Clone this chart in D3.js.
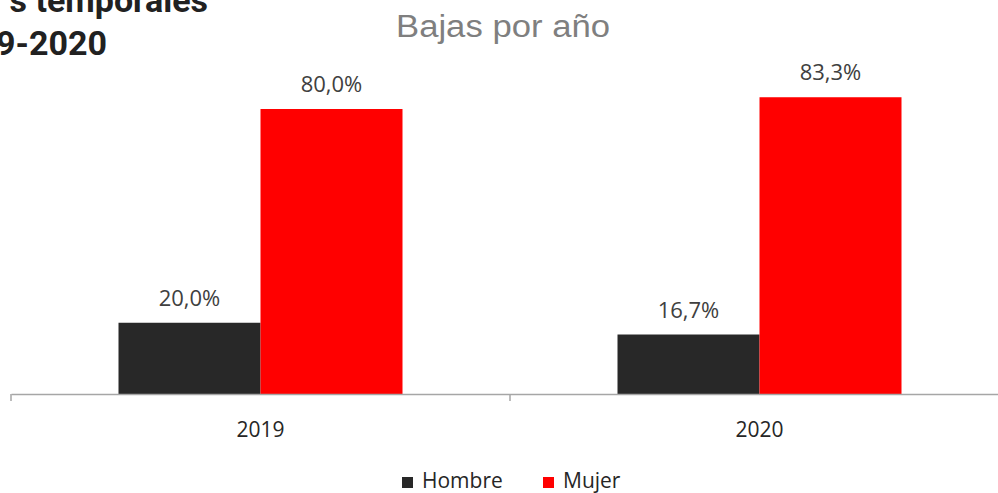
<!DOCTYPE html>
<html>
<head>
<meta charset="utf-8">
<script src="https://cdn.jsdelivr.net/npm/d3@7"></script>
<style>
  body { margin: 0; background: #fff; }
  svg { display: block; }
</style>
</head>
<body>
<div id="chart"></div>
<script>
var years = ["2019", "2020"];
var series = ["Hombre", "Mujer"];
var hombre = [20.0, 16.7];
var mujer = [80.0, 83.3];
var colors = ["#282828", "#ff0000"];

var width = 998, height = 493;

var svg = d3.select("#chart")
    .append("svg")
    .attr("width", width)
    .attr("height", height);

// cut-off heading from the slide behind the chart
svg.append("text")
    .attr("x", 208).attr("y", 12)
    .attr("text-anchor", "end")
    .style("font-family", "Roboto")
    .style("font-weight", "bold")
    .style("font-size", "34px")
    .style("fill", "#212121")
    .text("s temporales");

svg.append("text")
    .attr("x", 107).attr("y", 55)
    .attr("text-anchor", "end")
    .style("font-family", "Roboto")
    .style("font-weight", "bold")
    .style("font-size", "34px")
    .style("fill", "#212121")
    .text("9-2020");

svg.append("text")
    .attr("x", 396).attr("y", 37)
    .attr("textLength", 214)
    .attr("lengthAdjust", "spacingAndGlyphs")
    .style("font-family", "Liberation Sans")
    .style("font-size", "31px")
    .style("fill", "#7f7f7f")
    .text("Bajas por año");

var baseline = 394;

var x = d3.scaleBand()
    .domain(years)
    .range([11, 1009])
    .paddingInner(0)
    .paddingOuter(0);

var groupWidth = 284;
var xs = d3.scaleBand()
    .domain(series)
    .range([0, groupWidth]);

var y = d3.scaleLinear()
    .domain([0, 80])
    .range([baseline, 109]);

var data = [];
years.forEach(function (yr, i) {
    data.push({ year: yr, serie: "Hombre", value: hombre[i], color: colors[0] });
    data.push({ year: yr, serie: "Mujer", value: mujer[i], color: colors[1] });
});

function barX(d) {
    return x(d.year) + (x.bandwidth() - groupWidth) / 2 + xs(d.serie);
}

svg.append("g")
    .selectAll("rect")
    .data(data)
    .enter()
    .append("rect")
    .attr("x", barX)
    .attr("y", function (d) { return y(d.value); })
    .attr("width", xs.bandwidth())
    .attr("height", function (d) { return baseline - y(d.value); })
    .style("fill", function (d) { return d.color; });

svg.append("g")
    .selectAll("text")
    .data(data)
    .enter()
    .append("text")
    .attr("x", function (d) { return barX(d) + xs.bandwidth() / 2; })
    .attr("y", function (d) { return y(d.value) - 17; })
    .attr("text-anchor", "middle")
    .style("font-family", "Open Sans")
    .style("font-size", "22px")
    .style("fill", "#404040")
    .text(function (d) { return d.value.toFixed(1).replace(".", ",") + "%"; });

// x axis
var axis = svg.append("g")
    .attr("transform", "translate(0," + baseline + ")")
    .call(d3.axisBottom(x).tickSize(0).tickFormat(""));
axis.select(".domain").attr("stroke", "#a6a6a6").attr("stroke-width", 1.5);

var divs = [x.range()[0], x(years[1])];
axis.selectAll(".div")
    .data(divs)
    .enter()
    .append("line")
    .attr("x1", function (d) { return d; })
    .attr("x2", function (d) { return d; })
    .attr("y1", 0)
    .attr("y2", 7)
    .attr("stroke", "#a6a6a6")
    .attr("stroke-width", 1.5);

svg.append("g")
    .selectAll("text")
    .data(years)
    .enter()
    .append("text")
    .attr("x", function (d) { return x(d) + x.bandwidth() / 2; })
    .attr("y", 437)
    .attr("text-anchor", "middle")
    .style("font-family", "Open Sans")
    .style("font-size", "21px")
    .style("fill", "#262626")
    .text(function (d) { return d; });

// legend
var legendX = [402, 543];
var legend = svg.append("g")
    .selectAll("g")
    .data(series)
    .enter()
    .append("g")
    .attr("transform", function (d, i) { return "translate(" + legendX[i] + ",0)"; });

legend.append("rect")
    .attr("x", 0).attr("y", 477)
    .attr("width", 11).attr("height", 11)
    .style("fill", function (d, i) { return colors[i]; });

legend.append("text")
    .attr("x", 20).attr("y", 488)
    .style("font-family", "Open Sans")
    .style("font-size", "21px")
    .style("fill", "#262626")
    .text(function (d) { return d; });
</script>
</body>
</html>
